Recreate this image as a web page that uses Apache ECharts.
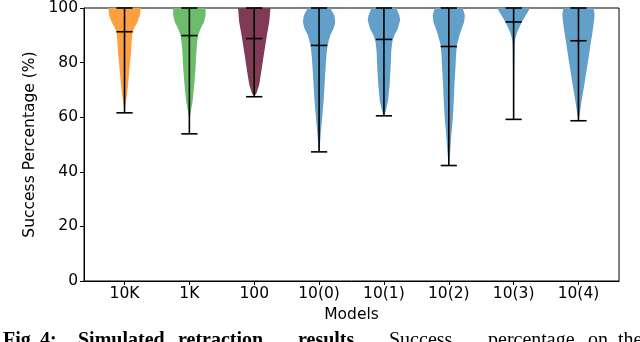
<!DOCTYPE html>
<html>
<head>
<meta charset="utf-8">
<script src="https://cdn.jsdelivr.net/npm/echarts@6/dist/echarts.min.js"></script>
<style>
  html, body { margin: 0; padding: 0; background: #fff; }
  #chart { width: 640px; height: 342px; }
</style>
</head>
<body>
<div id="chart"></div>
<script>
// models on the x axis
const models = ['10K', '1K', '100', '10(0)', '10(1)', '10(2)', '10(3)', '10(4)']
const violinColors = ['#ffa040', '#6bbd6b', '#7f3a55', '#62a0ca', '#62a0ca', '#62a0ca', '#62a0ca', '#62a0ca']

// extrema and mean of each model (%)
const minVals = [61.6, 53.9, 67.5, 47.3, 60.5, 42.3, 59.2, 58.7]
const maxVals = [100, 100, 100, 100, 100, 100, 100, 100]
const meanVals = [91.3, 89.9, 88.8, 86.3, 88.5, 85.9, 94.9, 88.0]

// density outline: [value %, relative half width]
const profile10K = [[100, 1.0], [97.3, 0.95], [94.9, 0.8], [93.1, 0.64], [91.3, 0.5], [87.6, 0.44], [83.6, 0.4], [77.9, 0.31], [71.9, 0.22], [67, 0.12], [63.4, 0.03], [61.6, 0]]
const profile1K = [[100, 1.0], [97.3, 1.0], [94.9, 0.9], [92.5, 0.7], [90.1, 0.54], [86.4, 0.46], [82.8, 0.42], [77.9, 0.38], [71.9, 0.3], [65.8, 0.2], [62.2, 0.09], [60, 0.03], [53.9, 0]]
const profile100 = [[100, 1.0], [95, 0.93], [90, 0.78], [84, 0.62], [78, 0.47], [72, 0.31], [69, 0.15], [67.5, 0]]
const profile10_0 = [[100, 0.69], [97.3, 0.94], [94.9, 1.0], [92.5, 0.9], [90.1, 0.7], [87.6, 0.58], [85.2, 0.5], [81.6, 0.44], [77.9, 0.4], [71.9, 0.34], [65.8, 0.28], [59.7, 0.19], [53.7, 0.1], [48.8, 0.04], [47.3, 0]]
const profile10_1 = [[100, 0.76], [97.3, 0.95], [95.5, 1.0], [92.5, 0.86], [90.1, 0.65], [87.6, 0.52], [84, 0.45], [77.9, 0.41], [71.9, 0.35], [65.8, 0.25], [62.2, 0.11], [60.5, 0]]
const profile10_2 = [[100, 0.86], [97.3, 0.99], [94.9, 0.95], [92.5, 0.8], [90.1, 0.67], [86.4, 0.5], [82.8, 0.45], [77.9, 0.41], [71.9, 0.35], [65.8, 0.31], [59.7, 0.25], [53.7, 0.16], [47.6, 0.09], [44, 0.03], [42.3, 0]]
const profile10_3 = [[100, 1.0], [98.5, 0.88], [96.1, 0.62], [93.7, 0.41], [91.3, 0.23], [88.8, 0.1], [86.4, 0.06], [77.9, 0.04], [65.8, 0.02], [59.2, 0]]
const profile10_4 = [[100, 0.93], [97.3, 1.0], [92.5, 0.9], [87.6, 0.77], [82.8, 0.65], [77.9, 0.52], [71.9, 0.36], [65.8, 0.19], [61, 0.07], [58.7, 0]]
const profiles = [profile10K, profile1K, profile100, profile10_0, profile10_1, profile10_2, profile10_3, profile10_4]

// caption words with the start-to-start spacing of the justified line
const captionBold = ['Fig.', '4:', 'Simulated', 'retraction', 'results.']
const captionBoldWidths = [37, 38, 100, 120, 91]
const captionRegular = ['Success', 'percentage', 'on', 'the']
const captionRegularWidths = [99, 100, 30, 40]

const halfWidth = 0.25 // violin max half width in category units
const capHalf = 0.125

const positions = models.map((m, i) => i)

const chart = echarts.init(document.getElementById('chart'))

const font = 'DejaVu Sans'

// rich text tokens for the caption
const captionRich = {}
let captionText = ''
captionBold.forEach((w, i) => {
    captionRich['b' + i] = { fontFamily: 'Liberation Serif', fontWeight: 'bold', fontSize: 20, color: '#000', width: captionBoldWidths[i], align: 'left' }
    captionText += '{b' + i + '|' + w + '}'
})
captionRegular.forEach((w, i) => {
    captionRich['r' + i] = { fontFamily: 'Liberation Serif', fontWeight: 'normal', fontSize: 20, color: '#000', width: captionRegularWidths[i], align: 'left' }
    captionText += '{r' + i + '|' + w + '}'
})

const option = {
    animation: false,
    title: {
        text: captionText,
        left: 3,
        top: 331,
        padding: 0,
        textStyle: { rich: captionRich }
    },
    grid: {
        left: 84,
        right: 21,
        top: 6,
        bottom: 61,
        show: true,
        borderColor: '#000',
        borderWidth: 1
    },
    xAxis: {
        type: 'value',
        min: -0.625,
        max: 7.625,
        name: 'Models',
        nameLocation: 'middle',
        nameGap: 23,
        nameTextStyle: { fontFamily: font, fontSize: 15.5, color: '#000' },
        axisLine: { show: true, onZero: false, lineStyle: { color: '#000', width: 1 } },
        axisTick: { show: true, customValues: positions, length: 4, lineStyle: { color: '#000' } },
        axisLabel: {
            customValues: positions,
            formatter: (v) => models[Math.round(v)],
            fontFamily: font,
            fontSize: 15.5,
            color: '#000',
            margin: 5
        },
        splitLine: { show: false }
    },
    yAxis: {
        type: 'value',
        min: 0,
        max: 100,
        interval: 20,
        name: 'Success Percentage (%)',
        nameLocation: 'middle',
        nameRotate: 90,
        nameGap: 46,
        nameTextStyle: { fontFamily: font, fontSize: 15.5, color: '#000' },
        axisLine: { show: true, onZero: false, lineStyle: { color: '#000', width: 1 } },
        axisTick: { show: true, length: 4, lineStyle: { color: '#000' } },
        axisLabel: { fontFamily: font, fontSize: 15.5, color: '#000', margin: 6 },
        splitLine: { show: false }
    },
    series: [
        {
            type: 'custom',
            name: 'violins',
            data: positions,
            encode: { x: 0 },
            renderItem: (params, api) => {
                const i = api.value(0)
                const prof = profiles[i]
                const right = prof.map(p => api.coord([i + p[1] * halfWidth, p[0]]))
                const left = prof.slice().reverse().map(p => api.coord([i - p[1] * halfWidth, p[0]]))
                return {
                    type: 'polygon',
                    shape: { points: right.concat(left) },
                    style: { fill: violinColors[i], stroke: null }
                }
            },
            z: 2
        },
        {
            type: 'custom',
            name: 'extrema',
            data: positions,
            encode: { x: 0 },
            renderItem: (params, api) => {
                const i = api.value(0)
                const style = { stroke: '#000', lineWidth: 1.6 }
                const seg = (x1, y1, x2, y2) => {
                    const a = api.coord([x1, y1])
                    const b = api.coord([x2, y2])
                    return { type: 'line', shape: { x1: a[0], y1: a[1], x2: b[0], y2: b[1] }, style: style }
                }
                return {
                    type: 'group',
                    children: [
                        seg(i, minVals[i], i, maxVals[i]),
                        seg(i - capHalf, minVals[i], i + capHalf, minVals[i]),
                        seg(i - capHalf, maxVals[i], i + capHalf, maxVals[i]),
                        seg(i - capHalf, meanVals[i], i + capHalf, meanVals[i])
                    ]
                }
            },
            z: 3
        }
    ]
}

chart.setOption(option)
</script>
</body>
</html>
